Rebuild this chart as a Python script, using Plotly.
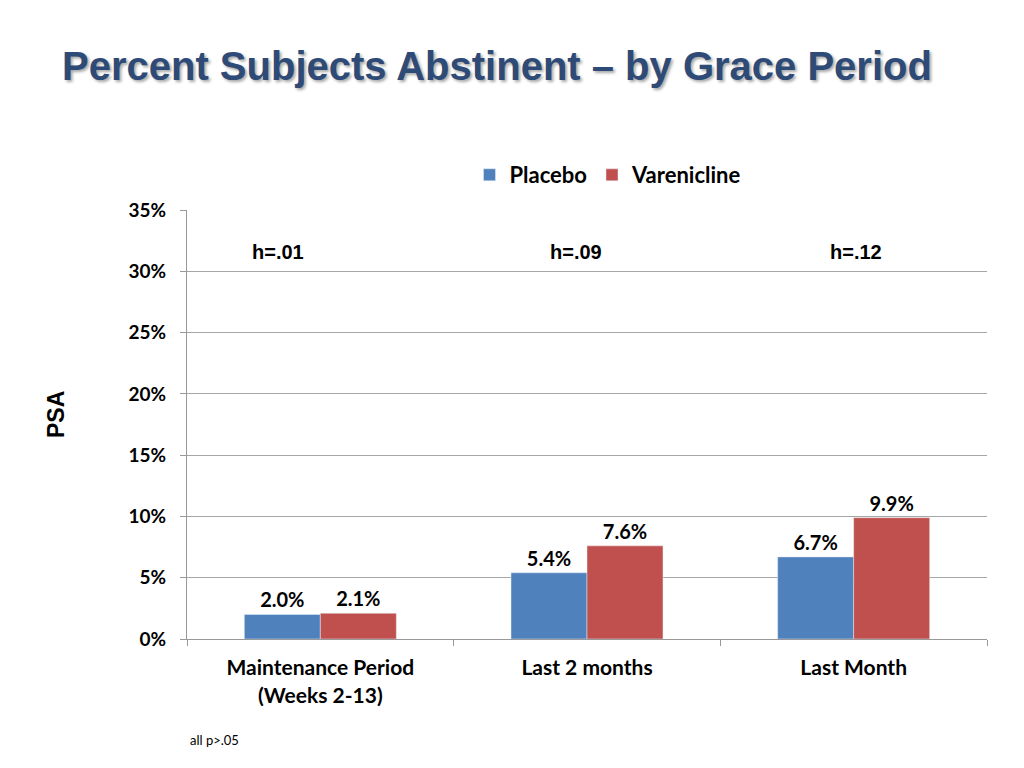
import plotly.graph_objects as go

categories = ["Maintenance Period<br>(Weeks 2-13)", "Last 2 months", "Last Month"]
placebo = [2.0, 5.4, 6.7]
varenicline = [2.1, 7.6, 9.9]
h_labels = ["h=.01", "h=.09", "h=.12"]
h_offsets = [-0.16, -0.04, 0.01]
y_ticks = [0, 5, 10, 15, 20, 25, 30, 35]
y_tick_text = [f"{v}%" for v in y_ticks]

FONT = "Lato"
# page body has an 8px offset; work in figure pixel coords
OFF = 8
L, T, W, H = 187 - OFF, 210 - OFF, 800, 429
R = 1024 - L - W
B = 768 - T - H

def px(xp):
    return (xp - OFF - L) / W

def py(yp):
    return (T + H - (yp - OFF)) / H

fig = go.Figure()
fig.add_trace(go.Bar(name="Placebo", x=categories, y=placebo, marker_color="#4F81BD",
                     texttemplate="%{y:.1f}%", textposition="outside", cliponaxis=False,
                     textfont=dict(family=FONT, size=20, color="black", weight="bold")))
fig.add_trace(go.Bar(name="Varenicline", x=categories, y=varenicline, marker_color="#C0504D",
                     texttemplate="%{y:.1f}%", textposition="outside", cliponaxis=False,
                     textfont=dict(family=FONT, size=20, color="black", weight="bold")))

for i, (lab, off) in enumerate(zip(h_labels, h_offsets)):
    fig.add_annotation(x=i + off, y=31.6, xref="x", yref="y", text=lab, showarrow=False,
                       font=dict(family="Liberation Sans", size=20, color="black", weight="bold"))

fig.add_annotation(x=px(56), y=py(415), xref="paper", yref="paper", text="PSA", showarrow=False,
                   xanchor="center", yanchor="middle", textangle=-90,
                   font=dict(family="Liberation Sans", size=23, color="black", weight="bold"))

fig.add_annotation(x=px(188), y=py(740), xref="paper", yref="paper",
                   text="all p>.05", showarrow=False, xanchor="left", yanchor="middle",
                   font=dict(family=FONT, size=13, color="black"))

fig.update_layout(
    width=1024, height=768,
    margin=dict(l=L, r=R, t=T, b=B),
    paper_bgcolor="white", plot_bgcolor="white",
    barmode="group", bargap=0.43, bargroupgap=0,
    title=dict(text="Percent Subjects Abstinent – by Grace Period",
               x=(62 - OFF) / 1024, xanchor="left", y=1 - (66 - OFF) / 768, yanchor="middle",
               font=dict(family="Liberation Sans", size=40, color="#2E4A77", weight="bold",
                         shadow="2px 2px 3px rgba(0,0,0,0.35)")),
    legend=dict(orientation="h", x=px(608), xanchor="center",
                y=py(175), yanchor="middle",
                font=dict(family=FONT, size=22, color="black", weight="bold"),
                itemwidth=30, tracegroupgap=0),
    xaxis=dict(tickson="boundaries", ticks="outside", ticklen=6, tickcolor="#999999",
               showline=True, linecolor="#999999", linewidth=1, ticklabelstandoff=10,
               tickfont=dict(family=FONT, size=21, color="black", weight="bold")),
    yaxis=dict(range=[0, 35], tickvals=y_ticks, ticktext=y_tick_text,
               showgrid=True, gridcolor="#A6A6A6", gridwidth=1,
               showline=True, linecolor="#999999", zeroline=False,
               ticks="outside", ticklen=6, tickcolor="#999999", ticklabelstandoff=10,
               tickfont=dict(family=FONT, size=19, color="black", weight="bold")),
)

fig.write_html("out.html")
